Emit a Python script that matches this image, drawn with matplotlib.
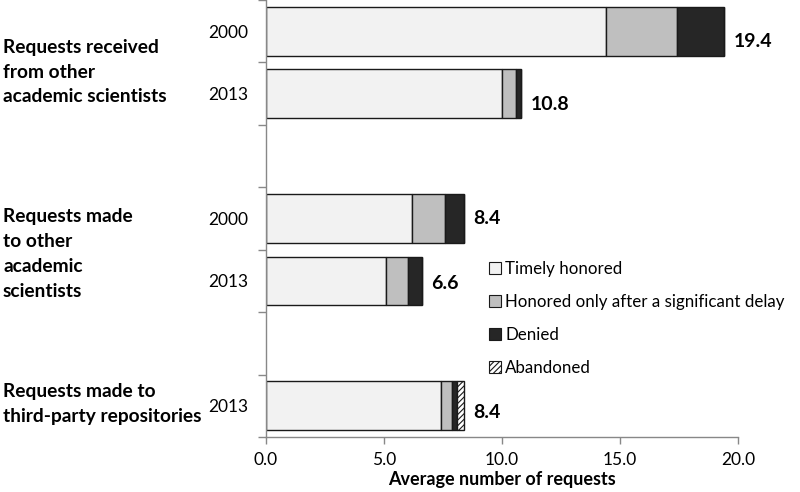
import matplotlib
matplotlib.use("Agg")
import matplotlib.pyplot as plt
from matplotlib.patches import Patch

plt.rcParams["font.family"] = ["Lato", "DejaVu Sans"]
plt.rcParams["hatch.linewidth"] = 0.8

# data
years = ["2000", "2013", "2000", "2013", "2013"]
slots = [0.5, 1.5, 3.5, 4.5, 6.5]          # row centres on a 7-slot axis
timely = [14.4, 10.0, 6.2, 5.1, 7.4]
delayed = [3.0, 0.6, 1.4, 0.9, 0.5]
denied = [2.0, 0.2, 0.8, 0.6, 0.2]
abandoned = [0.0, 0.0, 0.0, 0.0, 0.3]
totals = ["19.4", "10.8", "8.4", "6.6", "8.4"]
groups = [
    "Requests received\nfrom other\nacademic scientists",
    "Requests made\nto other\nacademic\nscientists",
    "Requests made to\nthird-party repositories",
]
series_names = ["Timely honored", "Honored only after a significant delay",
                "Denied", "Abandoned"]

fig = plt.figure(figsize=(8, 4.92), dpi=100)
ax = fig.add_axes([266 / 800, 55 / 492, 472 / 800, 437 / 492])

h = 0.78
left = [0.0] * len(slots)
styles = [
    dict(color="#F2F2F2"),
    dict(color="#BFBFBF"),
    dict(color="#262626"),
    dict(color="white", hatch="//////"),
]
for vals, st in zip([timely, delayed, denied, abandoned], styles):
    ax.barh(slots, vals, height=h, left=left, edgecolor="#1a1a1a",
            linewidth=1.0, **st)
    left = [a + b for a, b in zip(left, vals)]

# value labels sit a little below the bar centre, as in the original
label_dy = [0.17, 0.17, 0.0, 0.04, 0.11]
for y, x, t, dy in zip(slots, left, totals, label_dy):
    ax.text(x + 0.4, y + dy, t, fontsize=14, fontweight="bold",
            va="center", ha="left")

ax.set_xlim(0, 20)
ax.set_ylim(7, 0)
ax.set_xticks([0, 5, 10, 15, 20])
ax.set_xticklabels(["0.0", "5.0", "10.0", "15.0", "20.0"], fontsize=12.5)
ax.set_yticks(slots)
ax.set_yticklabels(years, fontsize=12.5)
ax.set_yticks(range(8), minor=True)
ax.tick_params(axis="y", which="major", length=0, pad=13)
ax.tick_params(axis="y", which="minor", length=6, color="#888888", width=1)
ax.tick_params(axis="x", length=5, color="#888888", width=1, pad=6)
ax.set_xlabel("Average number of requests", fontsize=13, fontweight="bold",
              labelpad=2)

for s in ["top", "right"]:
    ax.spines[s].set_visible(False)
for s in ["left", "bottom"]:
    ax.spines[s].set_color("#888888")
    ax.spines[s].set_linewidth(1)

# group labels on the left
label_px = [72, 254, 404]
for g, py in zip(groups, label_px):
    fig.text(3 / 800, 1 - py / 492, g, fontsize=13.8, fontweight="bold",
             ha="left", va="center", linespacing=1.55)

handles = [Patch(facecolor=st["color"], edgecolor="#1a1a1a", linewidth=0.8,
                 hatch=st.get("hatch")) for st in styles]
fig.legend(handles, series_names, loc="upper left",
           bbox_to_anchor=(489 / 800, 1 - 261 / 492), frameon=False,
           fontsize=12.2, handlelength=0.72, handleheight=0.72,
           handletextpad=0.25, labelspacing=1.0, borderaxespad=0,
           borderpad=0)

fig.savefig("out.png", dpi=100)
